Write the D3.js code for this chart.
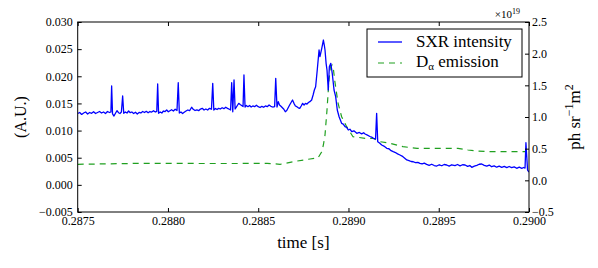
<!DOCTYPE html>
<html>
<head>
<meta charset="utf-8">
<script src="https://cdn.jsdelivr.net/npm/d3@7"></script>
<style>
  body { margin: 0; background: #fff; }
  svg { display: block; font-family: "Liberation Serif", "DejaVu Serif", serif; }
</style>
</head>
<body>
<svg id="chart" width="598" height="268"></svg>
<script>
// tick values
const timeTicks = [0.2875, 0.2880, 0.2885, 0.2890, 0.2895, 0.2900];
const sxrTicks = [-0.005, 0.000, 0.005, 0.010, 0.015, 0.020, 0.025, 0.030];
const dalphaTicks = [-0.5, 0.0, 0.5, 1.0, 1.5, 2.0, 2.5];

// SXR intensity (A.U.)
const sxrTime = [
  0.287500, 0.287511, 0.287522, 0.287533, 0.287544, 0.287555, 0.287566, 0.287577, 0.287588, 0.287599,
  0.287610, 0.287621, 0.287632, 0.287643, 0.287654, 0.287665, 0.287676, 0.287684, 0.287688, 0.287693,
  0.287701, 0.287710, 0.287718, 0.287726, 0.287734, 0.287742, 0.287749, 0.287755, 0.287764, 0.287773,
  0.287782, 0.287791, 0.287800, 0.287810, 0.287820, 0.287830, 0.287840, 0.287850, 0.287860, 0.287870,
  0.287880, 0.287890, 0.287900, 0.287910, 0.287920, 0.287930, 0.287938, 0.287943, 0.287948, 0.287957,
  0.287966, 0.287975, 0.287984, 0.287993, 0.288002, 0.288011, 0.288020, 0.288030, 0.288040, 0.288050,
  0.288057, 0.288063, 0.288072, 0.288081, 0.288090, 0.288100, 0.288110, 0.288120, 0.288131, 0.288140,
  0.288150, 0.288160, 0.288170, 0.288180, 0.288190, 0.288200, 0.288210, 0.288220, 0.288230, 0.288241,
  0.288248, 0.288254, 0.288263, 0.288272, 0.288281, 0.288290, 0.288300, 0.288310, 0.288320, 0.288330,
  0.288340, 0.288347, 0.288353, 0.288359, 0.288366, 0.288372, 0.288378, 0.288386, 0.288392, 0.288400,
  0.288408, 0.288416, 0.288421, 0.288427, 0.288434, 0.288443, 0.288452, 0.288461, 0.288470, 0.288480,
  0.288490, 0.288500, 0.288510, 0.288520, 0.288530, 0.288540, 0.288550, 0.288560, 0.288570, 0.288580,
  0.288591, 0.288597, 0.288604, 0.288611, 0.288618, 0.288626, 0.288634, 0.288642, 0.288650, 0.288658,
  0.288666, 0.288674, 0.288682, 0.288690, 0.288698, 0.288706, 0.288714, 0.288722, 0.288730, 0.288738,
  0.288746, 0.288754, 0.288762, 0.288770, 0.288778, 0.288786, 0.288796, 0.288804,
  // rise and peak
  0.288811, 0.288818, 0.288827, 0.288837, 0.288842, 0.288852, 0.288861, 0.288866, 0.288870, 0.288876,
  0.288881, 0.288888, 0.288894, 0.288902, 0.288910, 0.288920, 0.288929, 0.288938, 0.288948,
  // decay and tail
  0.288955, 0.288962, 0.288971, 0.288981, 0.288990, 0.288999, 0.289008, 0.289018, 0.289030, 0.289046,
  0.289060, 0.289073, 0.289084, 0.289092, 0.289105, 0.289119, 0.289128, 0.289138, 0.289150, 0.289156,
  0.289162, 0.289172, 0.289184, 0.289196, 0.289212, 0.289224, 0.289236, 0.289248, 0.289260, 0.289272,
  0.289285, 0.289297, 0.289310, 0.289323, 0.289335, 0.289347, 0.289359, 0.289371, 0.289384, 0.289396,
  0.289408, 0.289420, 0.289433, 0.289447, 0.289461, 0.289475, 0.289489, 0.289503, 0.289517, 0.289530,
  0.289544, 0.289558, 0.289572, 0.289590, 0.289604, 0.289618, 0.289632, 0.289646, 0.289660, 0.289672,
  0.289683, 0.289697, 0.289711, 0.289724, 0.289738, 0.289752, 0.289766, 0.289780, 0.289793, 0.289807,
  0.289821, 0.289835, 0.289849, 0.289863, 0.289877, 0.289890, 0.289904, 0.289918, 0.289932, 0.289946,
  0.289960, 0.289970, 0.289978, 0.289983, 0.289992, 0.290000
];
const sxrValue = [
  0.01315, 0.01333, 0.01297, 0.01324, 0.01342, 0.01306, 0.01333, 0.01318, 0.01347, 0.01315,
  0.01333, 0.01351, 0.01324, 0.01342, 0.01315, 0.01351, 0.01333, 0.01342, 0.01821, 0.01306,
  0.01268, 0.01324, 0.01366, 0.01329, 0.01315, 0.01342, 0.01637, 0.01318, 0.01342, 0.01324,
  0.01360, 0.01329, 0.01342, 0.01315, 0.01338, 0.01306, 0.01333, 0.01324, 0.01351, 0.01333,
  0.01355, 0.01329, 0.01351, 0.01342, 0.01366, 0.01342, 0.01355, 0.01858, 0.01318, 0.01342,
  0.01324, 0.01360, 0.01351, 0.01379, 0.01347, 0.01366, 0.01383, 0.01360, 0.01392, 0.01370,
  0.01882, 0.01324, 0.01342, 0.01315, 0.01338, 0.01360, 0.01379, 0.01366, 0.01429, 0.01392,
  0.01370, 0.01383, 0.01366, 0.01397, 0.01410, 0.01379, 0.01397, 0.01379, 0.01410, 0.01392,
  0.01871, 0.01379, 0.01406, 0.01388, 0.01410, 0.01397, 0.01420, 0.01403, 0.01429, 0.01410,
  0.01392, 0.01379, 0.01882, 0.01347, 0.01932, 0.01397, 0.01429, 0.01471, 0.01502, 0.01480,
  0.01462, 0.01443, 0.02024, 0.01434, 0.01462, 0.01440, 0.01462, 0.01434, 0.01453, 0.01440,
  0.01466, 0.01440, 0.01425, 0.01447, 0.01429, 0.01453, 0.01440, 0.01471, 0.01447, 0.01434,
  0.01443, 0.01963, 0.01434, 0.01532, 0.01471, 0.01447, 0.01420, 0.01392, 0.01347, 0.01370,
  0.01420, 0.01471, 0.01517, 0.01563, 0.01502, 0.01453, 0.01440, 0.01420, 0.01410, 0.01453,
  0.01502, 0.01471, 0.01502, 0.01488, 0.01517, 0.01532, 0.01563, 0.01655,
  // rise and peak
  0.01747, 0.01808, 0.02116, 0.02484, 0.02361, 0.02516, 0.02668, 0.02576, 0.02484, 0.02239,
  0.02116, 0.01747, 0.02177, 0.02239, 0.02055, 0.01747, 0.01624, 0.01379, 0.01255,
  // decay and tail
  0.01195, 0.01134, 0.01120, 0.01071, 0.01060, 0.01010, 0.01025, 0.00979, 0.00995, 0.00950,
  0.00965, 0.00940, 0.00960, 0.00937, 0.00915, 0.00891, 0.00880, 0.00857, 0.00845, 0.01318,
  0.00795, 0.00770, 0.00734, 0.00715, 0.00673, 0.00665, 0.00630, 0.00611, 0.00595, 0.00570,
  0.00550, 0.00530, 0.00495, 0.00458, 0.00448, 0.00430, 0.00426, 0.00410, 0.00415, 0.00397,
  0.00385, 0.00400, 0.00378, 0.00360, 0.00380, 0.00356, 0.00347, 0.00370, 0.00352, 0.00375,
  0.00366, 0.00345, 0.00370, 0.00356, 0.00375, 0.00350, 0.00370, 0.00366, 0.00340, 0.00356,
  0.00323, 0.00345, 0.00360, 0.00380, 0.00384, 0.00360, 0.00345, 0.00365, 0.00334, 0.00350,
  0.00325, 0.00345, 0.00323, 0.00340, 0.00318, 0.00338, 0.00316, 0.00332, 0.00305, 0.00325,
  0.00305, 0.00320, 0.00310, 0.00776, 0.00273, 0.00237
];

// D-alpha emission, in units of 1e19 ph sr^-1 m^2
const dalphaTime = [
  0.287500, 0.287862, 0.288178, 0.288399, 0.288549, 0.288621, 0.288715, 0.288787, 0.288831, 0.288851,
  0.288861, 0.288870, 0.288881, 0.288892, 0.288900, 0.288909, 0.288917, 0.288925, 0.288942, 0.288962,
  0.288990, 0.289025, 0.289053, 0.289092, 0.289136, 0.289175, 0.289230, 0.289302, 0.289380, 0.289524,
  0.289607, 0.289662, 0.289718, 0.289773, 0.289983
];
const dalphaValue = [
  0.253, 0.269, 0.266, 0.266, 0.269, 0.253, 0.305, 0.337, 0.353, 0.447,
  0.558, 0.716, 1.111, 1.584, 1.789, 1.821, 1.742, 1.553, 1.221, 1.005,
  0.847, 0.689, 0.679, 0.664, 0.664, 0.610, 0.585, 0.531, 0.506, 0.506,
  0.506, 0.479, 0.463, 0.452, 0.452
];

var svg = d3.select("#chart");

// plot box
const plotLeft = 77.7, plotRight = 529, plotTop = 22, plotBottom = 212;
const tickLen = 4;

var x = d3.scaleLinear().domain([0.2875, 0.2900]).range([plotLeft, plotRight]);
var yL = d3.scaleLinear().domain([-0.005, 0.030]).range([plotBottom, plotTop]);
var yR = d3.scaleLinear().domain([-0.5, 2.5]).range([plotBottom, plotTop]);

svg.append("rect").attr("width", 598).attr("height", 268).attr("fill", "#fff");

svg.append("clipPath").attr("id", "clip")
  .append("rect")
  .attr("x", plotLeft).attr("y", plotTop)
  .attr("width", plotRight - plotLeft).attr("height", plotBottom - plotTop);

var plot = svg.append("g").attr("clip-path", "url(#clip)");

var sxrData = sxrTime.map((t, i) => [t, sxrValue[i]]);
var dalphaData = dalphaTime.map((t, i) => [t, dalphaValue[i]]);

plot.append("path")
  .datum(dalphaData)
  .attr("fill", "none")
  .attr("stroke", "#20a020")
  .attr("stroke-width", 1.2)
  .attr("stroke-dasharray", "6,5")
  .attr("d", d3.line().x(d => x(d[0])).y(d => yR(d[1])));

plot.append("path")
  .datum(sxrData)
  .attr("fill", "none")
  .attr("stroke", "#0000ff")
  .attr("stroke-width", 1.3)
  .attr("stroke-linejoin", "round")
  .attr("d", d3.line().x(d => x(d[0])).y(d => yL(d[1])));

// axes, ticks pointing inward
function styleAxis(g) {
  g.select(".domain").remove();
  g.selectAll("line").attr("stroke", "#000").attr("stroke-width", 1);
  g.selectAll("text").attr("font-size", 12).attr("fill", "#000")
    .attr("font-family", "Liberation Serif, DejaVu Serif, serif");
}

svg.append("g")
  .attr("transform", `translate(0,${plotBottom})`)
  .call(d3.axisBottom(x).tickValues(timeTicks).tickFormat(d3.format(".4f"))
    .tickSizeInner(-tickLen).tickSizeOuter(0).tickPadding(4.5))
  .call(styleAxis);

svg.append("g")
  .attr("transform", `translate(0,${plotTop})`)
  .call(d3.axisTop(x).tickValues(timeTicks).tickFormat("")
    .tickSizeInner(-tickLen).tickSizeOuter(0))
  .call(styleAxis);

svg.append("g")
  .attr("transform", `translate(${plotLeft},0)`)
  .call(d3.axisLeft(yL).tickValues(sxrTicks).tickFormat(d3.format(".3f"))
    .tickSizeInner(-tickLen).tickSizeOuter(0).tickPadding(5))
  .call(styleAxis);

svg.append("g")
  .attr("transform", `translate(${plotRight},0)`)
  .call(d3.axisRight(yR).tickValues(dalphaTicks).tickFormat(d3.format(".1f"))
    .tickSizeInner(-tickLen).tickSizeOuter(0).tickPadding(3))
  .call(styleAxis);

// frame
svg.append("rect")
  .attr("x", plotLeft).attr("y", plotTop)
  .attr("width", plotRight - plotLeft).attr("height", plotBottom - plotTop)
  .attr("fill", "none").attr("stroke", "#000").attr("stroke-width", 1);

// offset text for right axis
var off = svg.append("text")
  .attr("x", 520).attr("y", 18)
  .attr("text-anchor", "end")
  .attr("font-size", 11);
off.append("tspan").text("×10");
off.append("tspan").attr("font-size", 8).attr("dy", -4).text("19");

// axis labels
svg.append("text")
  .attr("x", (plotLeft + plotRight) / 2).attr("y", 248)
  .attr("text-anchor", "middle")
  .attr("font-size", 17)
  .text("time [s]");

svg.append("text")
  .attr("transform", `translate(26,${(plotTop + plotBottom) / 2}) rotate(-90)`)
  .attr("text-anchor", "middle")
  .attr("font-size", 16)
  .text("(A.U.)");

var rl = svg.append("text")
  .attr("transform", `translate(580,${(plotTop + plotBottom) / 2}) rotate(-90)`)
  .attr("text-anchor", "middle")
  .attr("font-size", 17);
rl.append("tspan").text("ph sr");
rl.append("tspan").attr("font-size", 12).attr("dy", -7).text("−1");
rl.append("tspan").attr("dy", 7).text("m");
rl.append("tspan").attr("font-size", 12).attr("dy", -7).text("2");

// legend
var legend = svg.append("g");
legend.append("rect")
  .attr("x", 367).attr("y", 29).attr("width", 155).attr("height", 48)
  .attr("fill", "#fff").attr("stroke", "#000").attr("stroke-width", 1);

legend.append("line")
  .attr("x1", 378).attr("x2", 402).attr("y1", 42).attr("y2", 42)
  .attr("stroke", "#0000ff").attr("stroke-width", 1.3);
legend.append("line")
  .attr("x1", 378).attr("x2", 402).attr("y1", 63).attr("y2", 63)
  .attr("stroke", "#20a020").attr("stroke-width", 1.2).attr("stroke-dasharray", "6,5");

legend.append("text")
  .attr("x", 416).attr("y", 47).attr("font-size", 17)
  .text("SXR intensity");
var lt = legend.append("text")
  .attr("x", 416).attr("y", 67).attr("font-size", 17);
lt.append("tspan").text("D");
lt.append("tspan").attr("font-size", 11).attr("dy", 3).text("α");
lt.append("tspan").attr("dy", -3).text(" emission");
</script>
</body>
</html>
